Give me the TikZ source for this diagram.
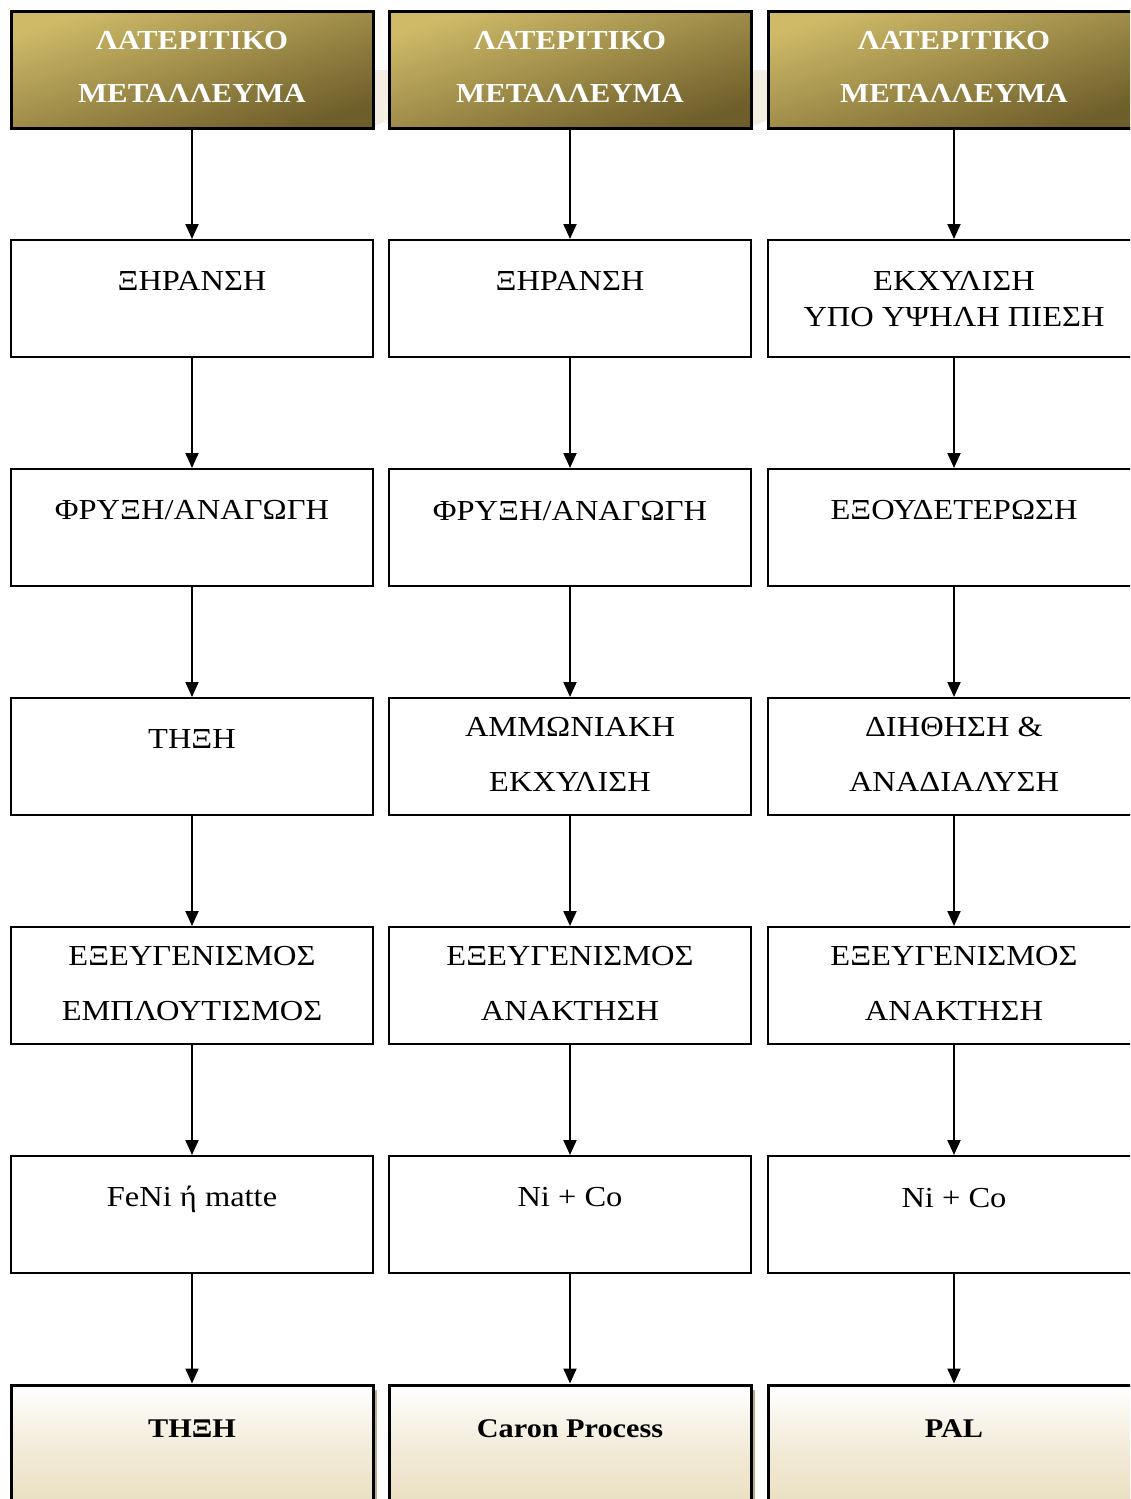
\documentclass[tikz,border=0pt]{standalone}
\usepackage{fontspec}
\setmainfont{Liberation Serif}[FakeStretch=1.12]
\usetikzlibrary{arrows.meta}
\definecolor{goldlight}{HTML}{CFBA68}
\definecolor{golddark}{HTML}{6E5E2A}
\definecolor{creamlow}{HTML}{E8DDBD}
\definecolor{ghost}{HTML}{F3EEE1}
\definecolor{shadowtan}{HTML}{B9AC8D}
\tikzset{
  every picture/.style={x=1pt,y=-1pt},
  stepbox/.style={draw=black, line width=2pt, rectangle, minimum width=362pt, minimum height=117pt, inner sep=0pt},
  widebox/.style={minimum width=372pt},
  headbox/.style={stepbox, line width=3pt, top color=goldlight, bottom color=golddark, shading angle=18},
  endbox/.style={stepbox, line width=3pt, minimum height=130pt, top color=white, bottom color=creamlow, middle color=white!40!creamlow},
  steptext/.style={anchor=base, font=\fontsize{29}{29}\selectfont, inner sep=0pt},
  headtext/.style={anchor=base, font=\fontsize{27.5}{27.5}\selectfont\bfseries, text=white, inner sep=0pt},
  endtext/.style={anchor=base, font=\fontsize{27}{27}\selectfont\bfseries, inner sep=0pt},
  flow/.style={line width=2pt, -{Triangle[length=15pt,width=13pt]}}
}
\begin{document}
\begin{tikzpicture}
\useasboundingbox (0,0) rectangle (1130,1499);
\clip (0,0) rectangle (1130,1499);
\fill[white] (0,0) rectangle (1130,1499);

% pale band showing between the header boxes
\fill[ghost] (360,70) -- (400,70) -- (400,114) -- (373,127) -- (360,127) -- cycle;
\fill[ghost] (740,70) -- (780,70) -- (780,114) -- (751,127) -- (740,127) -- cycle;

% shadows behind the result boxes
\fill[shadowtan] (15,1390) rectangle (377,1530);
\fill[shadowtan] (393,1390) rectangle (755,1530);

% header row
\node[headbox] (h1) at (192,69.5) {};
\node[headbox] (h2) at (570,69.5) {};
\node[headbox, widebox] (h3) at (954,69.5) {};

% process steps
\node[stepbox] (a2) at (192,298.5) {};
\node[stepbox] (b2) at (570,298.5) {};
\node[stepbox, widebox] (c2) at (954,298.5) {};

\node[stepbox] (a3) at (192,527.5) {};
\node[stepbox] (b3) at (570,527.5) {};
\node[stepbox, widebox] (c3) at (954,527.5) {};

\node[stepbox] (a4) at (192,756.5) {};
\node[stepbox] (b4) at (570,756.5) {};
\node[stepbox, widebox] (c4) at (954,756.5) {};

\node[stepbox] (a5) at (192,985.5) {};
\node[stepbox] (b5) at (570,985.5) {};
\node[stepbox, widebox] (c5) at (954,985.5) {};

\node[stepbox] (a6) at (192,1214.5) {};
\node[stepbox] (b6) at (570,1214.5) {};
\node[stepbox, widebox] (c6) at (954,1214.5) {};

% result row
\node[endbox] (a7) at (192,1450) {};
\node[endbox] (b7) at (570,1450) {};
\node[endbox, widebox] (c7) at (954,1450) {};

% labels
\foreach \cx in {192, 570, 954}{
  \node[headtext] at (\cx,49) {ΛΑΤΕΡΙΤΙΚΟ};
  \node[headtext] at (\cx,102) {ΜΕΤΑΛΛΕΥΜΑ};
}
\node[steptext] (ta2) at (192,290) {ΞΗΡΑΝΣΗ};
\node[steptext] (tb2) at (570,290) {ΞΗΡΑΝΣΗ};
\node[steptext] (tc2a) at (954,290) {ΕΚΧΥΛΙΣΗ};
\node[steptext] (tc2b) at (954,326) {ΥΠΟ ΥΨΗΛΗ ΠΙΕΣΗ};

\node[steptext] (ta3) at (192,519) {ΦΡΥΞΗ/ΑΝΑΓΩΓΗ};
\node[steptext] (tb3) at (570,520) {ΦΡΥΞΗ/ΑΝΑΓΩΓΗ};
\node[steptext] (tc3) at (954,519) {ΕΞΟΥΔΕΤΕΡΩΣΗ};

\node[steptext] (ta4) at (192,748) {ΤΗΞΗ};
\node[steptext] (tb4a) at (570,736) {ΑΜΜΩΝΙΑΚΗ};
\node[steptext] (tb4b) at (570,791) {ΕΚΧΥΛΙΣΗ};
\node[steptext] (tc4a) at (954,736) {ΔΙΗΘΗΣΗ \&};
\node[steptext] (tc4b) at (954,791) {ΑΝΑΔΙΑΛΥΣΗ};

\node[steptext] (ta5a) at (192,965) {ΕΞΕΥΓΕΝΙΣΜΟΣ};
\node[steptext] (ta5b) at (192,1020) {ΕΜΠΛΟΥΤΙΣΜΟΣ};
\node[steptext] (tb5a) at (570,965) {ΕΞΕΥΓΕΝΙΣΜΟΣ};
\node[steptext] (tb5b) at (570,1020) {ΑΝΑΚΤΗΣΗ};
\node[steptext] (tc5a) at (954,965) {ΕΞΕΥΓΕΝΙΣΜΟΣ};
\node[steptext] (tc5b) at (954,1020) {ΑΝΑΚΤΗΣΗ};

\node[steptext] (ta6) at (192,1206) {FeNi ή matte};
\node[steptext] (tb6) at (570,1206) {Ni + Co};
\node[steptext] (tc6) at (954,1207) {Ni + Co};

\node[endtext] (ta7) at (192,1437) {ΤΗΞΗ};
\node[endtext] (tb7) at (570,1437) {Caron Process};
\node[endtext] (tc7) at (954,1437) {PAL};

% connectors
\draw[flow] (h1.south) -- (a2.north);
\draw[flow] (h2.south) -- (b2.north);
\draw[flow] (h3.south) -- (c2.north);
\foreach \c in {a,b,c}{
  \draw[flow] (\c2.south) -- (\c3.north);
  \draw[flow] (\c3.south) -- (\c4.north);
  \draw[flow] (\c4.south) -- (\c5.north);
  \draw[flow] (\c5.south) -- (\c6.north);
  \draw[flow] (\c6.south) -- (\c7.north);
}
\end{tikzpicture}
\end{document}
